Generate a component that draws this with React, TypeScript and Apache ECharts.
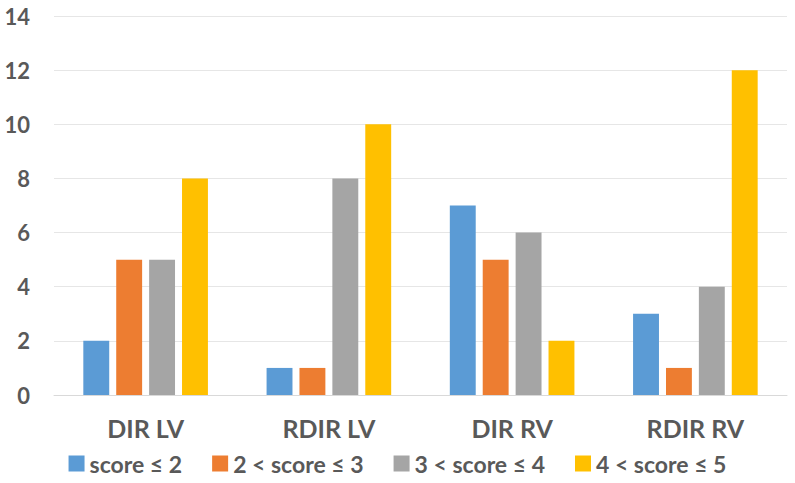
import React, { useEffect, useRef } from "react";
import * as echarts from "echarts";

const categories = ["DIR LV", "RDIR LV", "DIR RV", "RDIR RV"];
const seriesNames = ["score ≤ 2", "2 < score ≤ 3", "3 < score ≤ 4", "4 < score ≤ 5"];
const score1 = [2, 1, 7, 3];
const score2 = [5, 1, 5, 1];
const score3 = [5, 8, 6, 4];
const score4 = [8, 10, 2, 12];
const colors = ["#5B9BD5", "#ED7D31", "#A5A5A5", "#FFC000"];

export default function App() {
  const ref = useRef<HTMLDivElement>(null);
  useEffect(() => {
    if (!ref.current) return;
    const chart = echarts.init(ref.current, undefined, { renderer: "svg" });
    const font = "Lato, 'Open Sans', sans-serif";
    const data = [score1, score2, score3, score4];
    chart.setOption({
      animation: false,
      color: colors,
      grid: { left: 54, right: 8, top: 16, bottom: 88, containLabel: false },
      legend: {
        bottom: 3,
        left: "center",
        itemWidth: 16,
        itemHeight: 16,
        itemGap: 30,
        icon: "rect",
        textStyle: { color: "#595959", fontSize: 23, fontWeight: "bold", fontFamily: font },
        data: seriesNames,
      },
      xAxis: {
        type: "category",
        data: categories,
        axisLine: { show: true, lineStyle: { color: "#D9D9D9" } },
        axisTick: { show: false },
        axisLabel: { color: "#595959", fontSize: 25, fontWeight: "bold", fontFamily: font, margin: 20 },
      },
      yAxis: {
        type: "value",
        min: 0,
        max: 14,
        interval: 2,
        axisLine: { show: false },
        axisTick: { show: false },
        splitLine: { lineStyle: { color: "#E6E6E6" } },
        axisLabel: { color: "#595959", fontSize: 22, fontWeight: "bold", fontFamily: font, margin: 24 },
      },
      series: seriesNames.map((name, i) => ({
        name,
        type: "bar",
        data: data[i],
        barGap: "27%",
        barCategoryGap: "32%",
      })),
    });
    return () => chart.dispose();
  }, []);
  return (
    <div
      ref={ref}
      style={{ position: "fixed", left: 0, top: 0, width: 795, height: 483, background: "#fff" }}
    />
  );
}
